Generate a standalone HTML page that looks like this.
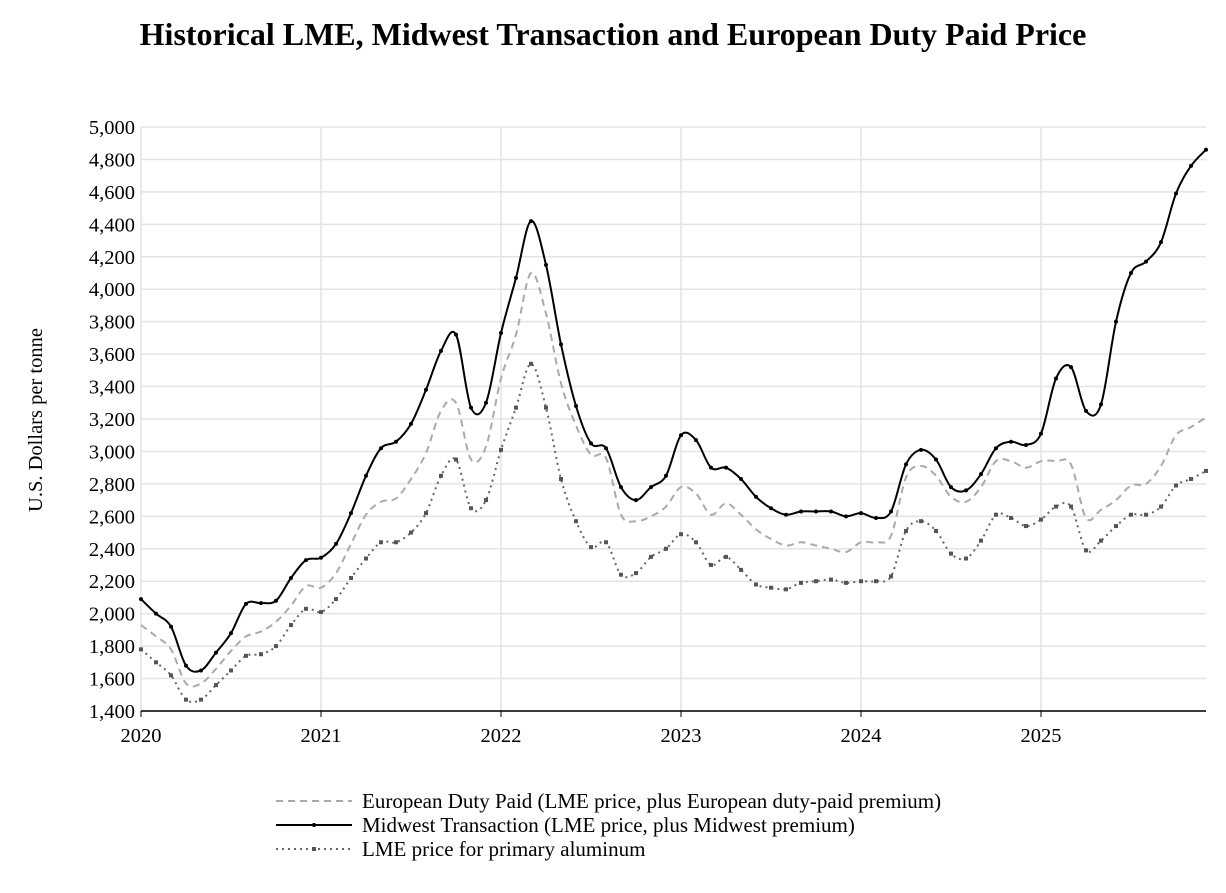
<!DOCTYPE html>
<html><head><meta charset="utf-8"><style>
body{margin:0;background:#fff}
svg text{font-family:"Liberation Serif",serif;fill:#000}
</style></head><body>
<svg id="s" width="1226" height="888" xmlns="http://www.w3.org/2000/svg">
<text x="613" y="45" text-anchor="middle" font-size="32" font-weight="bold">Historical LME, Midwest Transaction and European Duty Paid Price</text>
<text transform="translate(42,420) rotate(-90)" text-anchor="middle" font-size="20.5">U.S. Dollars per tonne</text>
<g id="grid"></g><g id="ser"></g>
<line x1="276" y1="801" x2="352" y2="801" stroke="#aaa" stroke-width="2" stroke-dasharray="7,5"/>
<text x="362" y="808" font-size="21">European Duty Paid (LME price, plus European duty-paid premium)</text>
<line x1="276" y1="825" x2="352" y2="825" stroke="#000" stroke-width="2"/>
<circle cx="314" cy="825" r="2"/>
<text x="362" y="832" font-size="21">Midwest Transaction (LME price, plus Midwest premium)</text>
<line x1="276" y1="849" x2="352" y2="849" stroke="#666" stroke-width="2" stroke-dasharray="2,4"/>
<rect x="312" y="847" width="4" height="4" fill="#555"/>
<text x="362" y="856" font-size="21">LME price for primary aluminum</text>
</svg>
<script>
const X=i=>141+15*i, Y=v=>711-(v-1400)*584/3600;
const g=document.getElementById('grid'), s=document.getElementById('ser');
let h='';
for(let v=1400;v<=5000;v+=200){h+=`<line x1="141" x2="1206" y1="${Y(v)}" y2="${Y(v)}" stroke="#e3e3e3" stroke-width="1.5"/>`;
h+=`<text x="135" y="${Y(v)+7}" text-anchor="end" font-size="20.5">${v.toLocaleString('en-US')}</text>`;}
for(let k=0;k<6;k++){const x=141+180*k;h+=`<line x1="${x}" x2="${x}" y1="127" y2="711" stroke="#e3e3e3" stroke-width="1.5"/><line x1="${x}" x2="${x}" y1="711" y2="717" stroke="#000"/><text x="${x}" y="742" text-anchor="middle" font-size="20.5">${2020+k}</text>`;}
h+=`<line x1="141" x2="1206" y1="711" y2="711" stroke="#000" stroke-width="1.5"/>`;
g.innerHTML=h;
const mw=[2090,2000,1920,1680,1650,1760,1880,2060,2065,2080,2220,2330,2345,2430,2620,2850,3020,3060,3170,3380,3620,3720,3270,3300,3730,4070,4420,4150,3660,3280,3050,3020,2780,2700,2780,2850,3100,3070,2900,2900,2830,2720,2650,2610,2630,2630,2630,2600,2620,2590,2630,2920,3010,2950,2780,2760,2860,3020,3060,3040,3110,3450,3520,3250,3290,3800,4100,4170,4290,4590,4760,4860];
const eu=[1930,1860,1780,1570,1570,1660,1770,1860,1890,1950,2050,2170,2160,2250,2430,2610,2690,2710,2830,2990,3250,3300,2950,3030,3450,3720,4100,3850,3420,3160,2980,2960,2610,2570,2600,2660,2780,2740,2610,2680,2610,2520,2460,2420,2440,2420,2400,2380,2440,2440,2480,2840,2910,2850,2720,2690,2780,2940,2940,2900,2940,2940,2920,2590,2640,2700,2790,2800,2910,3100,3150,3210];
const lme=[1780,1700,1620,1470,1470,1560,1650,1740,1750,1800,1930,2030,2010,2090,2220,2340,2440,2440,2500,2620,2850,2950,2650,2700,3010,3270,3540,3270,2830,2570,2410,2440,2240,2250,2350,2400,2490,2440,2300,2350,2270,2180,2160,2150,2190,2200,2210,2190,2200,2200,2230,2510,2570,2510,2370,2340,2450,2610,2590,2540,2580,2660,2660,2390,2450,2540,2610,2610,2660,2790,2830,2880];
function path(d){const p=d.map((v,i)=>[X(i),Y(v)]);let str=`M${p[0][0]},${p[0][1]}`;
for(let i=0;i<p.length-1;i++){const a=p[Math.max(i-1,0)],b=p[i],c=p[i+1],e=p[Math.min(i+2,p.length-1)];
str+=` C${b[0]+(c[0]-a[0])/6},${b[1]+(c[1]-a[1])/6} ${c[0]-(e[0]-b[0])/6},${c[1]-(e[1]-b[1])/6} ${c[0]},${c[1]}`;}return str;}
let o='';
o+=`<path d="${path(eu)}" fill="none" stroke="#aaa" stroke-width="2" stroke-dasharray="7,5"/>`;
o+=`<path d="${path(lme)}" fill="none" stroke="#666" stroke-width="2" stroke-dasharray="2,4"/>`;
lme.forEach((v,i)=>o+=`<rect x="${X(i)-2}" y="${Y(v)-2}" width="4" height="4" fill="#555"/>`);
o+=`<path d="${path(mw)}" fill="none" stroke="#000" stroke-width="2"/>`;
mw.forEach((v,i)=>o+=`<circle cx="${X(i)}" cy="${Y(v)}" r="2"/>`);
s.innerHTML=o;
</script>
</body></html>
